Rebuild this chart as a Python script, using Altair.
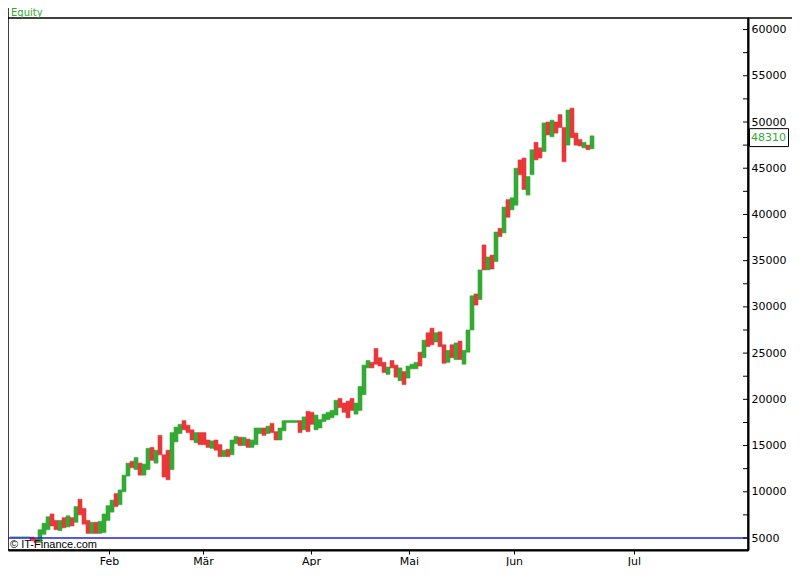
import altair as alt
import pandas as pd

GREEN = "#33aa33"
RED = "#e8383a"
BLUE = "#1f1fe6"
FONT = "DejaVu Sans"

# bar highs / lows in thousands (one bar per trading period)
highs_k = [
    5.1, 5.1, 5.1, 5.1, 5.1, 5.1, 4.9, 5.9, 6.6, 7.3, 7.6, 6.9, 6.9, 7.2, 7.4, 7.2, 8.4, 9.2, 8.2, 6.9, 6.7, 6.7, 6.8, 7.6, 8.5,
    9.1, 9.8, 10.2, 11.8, 13.1, 13.3, 13.7, 13.1, 13.0, 14.7, 14.8, 14.5, 16.1, 14.0, 14.5, 16.4, 17.0, 17.3, 17.7, 17.2, 16.7, 16.4, 16.4, 16.4, 15.6,
    15.5, 15.6, 15.1, 14.5, 14.6, 15.6, 16.0, 15.9, 15.9, 15.7, 15.6, 16.9, 16.9, 16.9, 17.1, 17.4, 16.5, 16.9, 17.7, 17.7, 17.7, 17.7, 17.7, 18.1, 18.7,
    18.6, 18.3, 17.8, 18.4, 18.6, 18.8, 19.9, 20.1, 19.6, 19.8, 20.1, 19.6, 21.4, 23.7, 24.2, 24.0, 25.5, 24.5, 24.0, 23.5, 24.2, 23.7, 23.4, 23.0, 23.6,
    23.8, 24.0, 25.1, 26.4, 27.2, 27.7, 27.2, 27.3, 25.9, 25.3, 25.9, 26.1, 26.3, 25.3, 27.5, 31.2, 31.4, 34.0, 36.7, 35.4, 35.6, 38.1, 38.5, 40.8, 41.6,
    41.8, 45.0, 45.9, 46.1, 44.1, 47.0, 47.8, 47.2, 49.9, 50.0, 50.2, 50.0, 50.8, 49.4, 51.3, 51.5, 48.8, 48.1, 47.8, 47.5, 48.5,
]
lows_k = [
    5.1, 5.1, 5.1, 5.1, 5.1, 4.7, 4.5, 4.5, 5.4, 5.9, 6.3, 5.9, 5.8, 6.1, 6.2, 6.3, 6.7, 7.5, 6.5, 5.5, 5.5, 5.5, 5.5, 5.6, 6.9,
    7.8, 8.4, 8.6, 10.0, 11.7, 12.6, 12.4, 11.8, 11.8, 12.4, 13.4, 13.1, 14.0, 11.6, 11.3, 12.4, 15.4, 16.3, 16.7, 16.4, 15.6, 15.3, 15.1, 15.1, 14.8,
    14.7, 14.5, 13.8, 13.8, 13.8, 14.0, 15.2, 15.0, 15.0, 14.8, 14.8, 15.1, 16.3, 16.1, 16.3, 16.4, 15.6, 15.6, 16.6, 17.5, 17.5, 17.5, 16.4, 16.7, 16.5,
    17.3, 16.7, 16.9, 17.6, 17.8, 18.0, 18.3, 19.1, 18.6, 18.0, 18.8, 18.4, 18.8, 20.5, 23.4, 23.4, 23.8, 23.6, 22.9, 22.7, 23.4, 22.4, 22.0, 21.6, 22.3,
    23.3, 23.3, 23.6, 24.5, 25.7, 25.9, 26.2, 25.7, 23.9, 24.0, 24.5, 24.3, 24.3, 23.8, 25.1, 27.5, 30.2, 30.8, 34.0, 34.0, 34.1, 34.9, 37.6, 38.0, 39.7,
    40.5, 41.0, 44.3, 42.7, 42.1, 44.3, 45.9, 46.1, 46.8, 48.6, 48.4, 48.8, 49.4, 45.7, 47.5, 48.3, 47.5, 47.4, 47.2, 47.0, 47.1,
]
# G = up bar, R = down bar
directions = (
    "GGGGGRRGGGRRGRGRGRRRGRGGG"
    "GRGGGRGRGGRGRRRGGGRRRGRRR"
    "GRRGRGGRGRGGGRGRRGGGGGRGR"
    "RGGGGGGRRRRGGGGRRRRGRRGRG"
    "GGRGRRGRRGRGRGGGRGRGRGRGR"
    "GGRRGGRRGRGRRRGRRRGRG"
)

month_names = ["Feb", "Mär", "Apr", "Mai", "Jun", "Jul"]
month_pos = [24.75, 48.25, 75.25, 99.75, 126, 156]
y_label_values = [5000 * k for k in range(1, 13)]
y_tick_values = [2500 * k for k in range(2, 25)]
start_equity = 5000
last_value = 48310
title_text = "Equity"
copyright_text = "© IT-Finance.com"
x_domain = [-0.5, 184.5]
y_domain = [3702, 61250]

W, H = 740, 532
PAD = {"left": 0, "top": 10, "right": 44, "bottom": 16}

n = len(highs_k)
bars = pd.DataFrame({
    "i0": list(range(n)),
    "i1": [i + 1 for i in range(n)],
    "low": [v * 1000 for v in lows_k],
    "high": [v * 1000 for v in highs_k],
    "dir": list(directions),
})

xscale = alt.Scale(domain=x_domain, nice=False, zero=False)
yscale = alt.Scale(domain=y_domain, nice=False, zero=False)
dir_scale = alt.Scale(domain=["G", "R"], range=[GREEN, RED])

label_expr = " : ".join(
    f"datum.value == {p} ? '{m}'" for p, m in zip(month_pos, month_names)
) + " : ''"

x_axis = alt.Axis(values=month_pos, labelExpr=label_expr, grid=False, title=None,
                  domainColor="black", domainWidth=2, tickColor="black", tickSize=4,
                  labelFont=FONT, labelFontSize=11, labelColor="black", labelPadding=1,
                  labelFlush=False, labelOverlap=False)
y_axis = alt.Axis(orient="right", values=y_label_values, format="d", grid=False, title=None,
                  ticks=False, domainColor="black", domainWidth=2, labelFont=FONT,
                  labelFontSize=11, labelColor="black", labelPadding=3, labelOverlap=False)

candles = alt.Chart(bars).mark_rect(strokeWidth=0.6).encode(
    x=alt.X("i0:Q", scale=xscale, axis=x_axis),
    x2="i1",
    y=alt.Y("low:Q", scale=yscale, axis=y_axis),
    y2="high",
    color=alt.Color("dir:N", scale=dir_scale, legend=None),
    stroke=alt.Stroke("dir:N", scale=dir_scale, legend=None),
)

base_line = alt.Chart(pd.DataFrame({"low": [start_equity]})).mark_rule(
    color=BLUE, strokeWidth=1.3
).encode(y=alt.Y("low:Q", scale=yscale, axis=y_axis))

ticks = alt.Chart(pd.DataFrame({"low": y_tick_values})).mark_rule(
    color="black", strokeWidth=1
).encode(y=alt.Y("low:Q", scale=yscale, axis=y_axis), x=alt.value(W - 5), x2=alt.value(W))

last_df = pd.DataFrame({"low": [last_value]})
last_box = alt.Chart(last_df).mark_point(
    shape="M-1,-0.46L1,-0.46L1,0.46L-1,0.46Z", size=1521, filled=True,
    fill="white", stroke="black", strokeWidth=1, opacity=1
).encode(y=alt.Y("low:Q", scale=yscale, axis=y_axis), x=alt.value(W + 21))
last_text = alt.Chart(last_df).mark_text(
    align="left", baseline="middle", font=FONT, fontSize=11, color=GREEN
).encode(y=alt.Y("low:Q", scale=yscale, axis=y_axis), x=alt.value(W + 3),
         text=alt.Text("low:Q", format="d"))

copyright = alt.Chart(pd.DataFrame({"t": [copyright_text]})).mark_text(
    align="left", baseline="middle", font="Liberation Sans", fontSize=11, color="black"
).encode(x=alt.value(2), y=alt.value(H - 5), text="t:N")

title = alt.Chart(pd.DataFrame({"t": [title_text]})).mark_text(
    align="left", baseline="alphabetic", font=FONT, fontSize=10, color=GREEN
).encode(x=alt.value(3), y=alt.value(-2), text="t:N")

dummy = pd.DataFrame({"k": [0]})
top_ext = alt.Chart(dummy).mark_rule(color="black", strokeWidth=1.5).encode(
    x=alt.value(W), x2=alt.value(W + PAD["right"]), y=alt.value(0))
left_ext = alt.Chart(dummy).mark_rule(color="black", strokeWidth=1.5).encode(
    x=alt.value(0), y=alt.value(-PAD["top"]), y2=alt.value(0))

chart = alt.layer(
    candles, base_line, ticks, last_box, last_text, copyright, title, top_ext, left_ext
).properties(
    width=W, height=H,
    autosize=alt.AutoSizeParams(type="none"),
    padding=PAD,
    background="white",
).configure_view(stroke="black", strokeWidth=1.5)

chart.save("out.html", embed_options={"renderer": "svg", "actions": False})
